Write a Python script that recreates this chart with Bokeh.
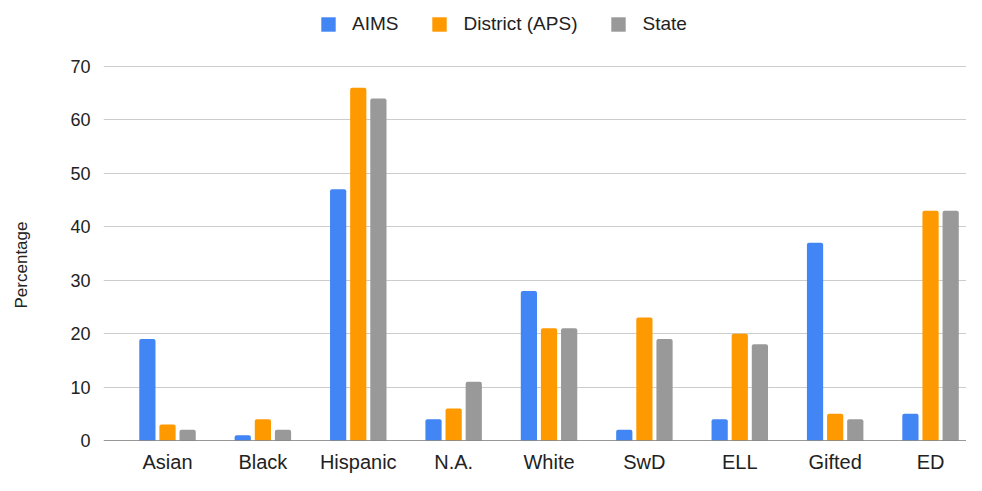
from bokeh.plotting import figure
from bokeh.models import Range1d, FixedTicker, Legend, LegendItem, Span
from bokeh.embed import file_html
from bokeh.resources import INLINE

categories = ["Asian", "Black", "Hispanic", "N.A.", "White", "SwD", "ELL", "Gifted", "ED"]
aims = [19, 1, 47, 4, 28, 2, 4, 37, 5]
district = [3, 4, 66, 6, 21, 23, 20, 5, 43]
state = [2, 2, 64, 11, 21, 19, 18, 4, 43]
series_names = ["AIMS", "District (APS)", "State"]
series_values = [aims, district, state]
colors = ["#4285F4", "#FF9900", "#999999"]
y_ticks = [0, 10, 20, 30, 40, 50, 60, 70]
y_title = "Percentage"

FONT = "Liberation Sans"
TEXT = "#222222"

# the upper part of the y range (above 70) leaves room for the legend
p = figure(width=966, height=475, output_backend="svg", toolbar_location=None,
           x_range=Range1d(-0.671, 8.377), y_range=Range1d(0, 81.6),
           min_border_left=103, min_border_right=0, min_border_top=4, min_border_bottom=0)
p.outline_line_color = None
p.background_fill_color = "white"
p.border_fill_color = "white"

xs = list(range(len(categories)))
offsets = [-0.211, 0.0, 0.211]
renderers = []
for name, vals, col, off in zip(series_names, series_values, colors, offsets):
    r = p.vbar(x=[x + off for x in xs], top=vals, width=0.17, bottom=0,
               fill_color=col, line_color=None, border_radius=(2, 2, 0, 0))
    renderers.append((name, r))

p.add_layout(Span(location=0, dimension="width", line_color="#333333", line_width=1))

p.xaxis.ticker = FixedTicker(ticks=xs)
p.xaxis.major_label_overrides = {i: c for i, c in enumerate(categories)}
p.xaxis.major_tick_line_color = None
p.xaxis.minor_tick_line_color = None
p.xaxis.axis_line_color = None
p.xaxis.major_label_text_font = FONT
p.xaxis.major_label_text_font_size = "20px"
p.xaxis.major_label_text_color = TEXT
p.xaxis.major_label_standoff = 4
p.xgrid.grid_line_color = None

p.yaxis.ticker = FixedTicker(ticks=y_ticks)
p.yaxis.major_tick_line_color = None
p.yaxis.minor_tick_line_color = None
p.yaxis.axis_line_color = None
p.yaxis.major_label_text_font = FONT
p.yaxis.major_label_text_font_size = "18px"
p.yaxis.major_label_text_color = TEXT
p.yaxis.major_label_standoff = 7
# trailing non-breaking spaces shift the centred title down to the middle of the 0-70 area
p.yaxis.axis_label = y_title + "\u00a0" * 18
p.yaxis.axis_label_text_font = FONT
p.yaxis.axis_label_text_font_size = "17px"
p.yaxis.axis_label_text_font_style = "normal"
p.yaxis.axis_label_text_color = TEXT
p.yaxis.axis_label_standoff = 36
p.ygrid.grid_line_color = "#cccccc"
p.ygrid.grid_line_width = 1

legend = Legend(items=[LegendItem(label=n, renderers=[r]) for n, r in renderers],
                orientation="horizontal", location=(216, 405),
                label_text_font=FONT, label_text_font_size="19px", label_text_color=TEXT,
                glyph_width=18, glyph_height=18, label_standoff=15, spacing=32,
                padding=0, margin=0, border_line_color=None, background_fill_alpha=0)
p.add_layout(legend)

open("out.html", "w").write(file_html(p, INLINE))
